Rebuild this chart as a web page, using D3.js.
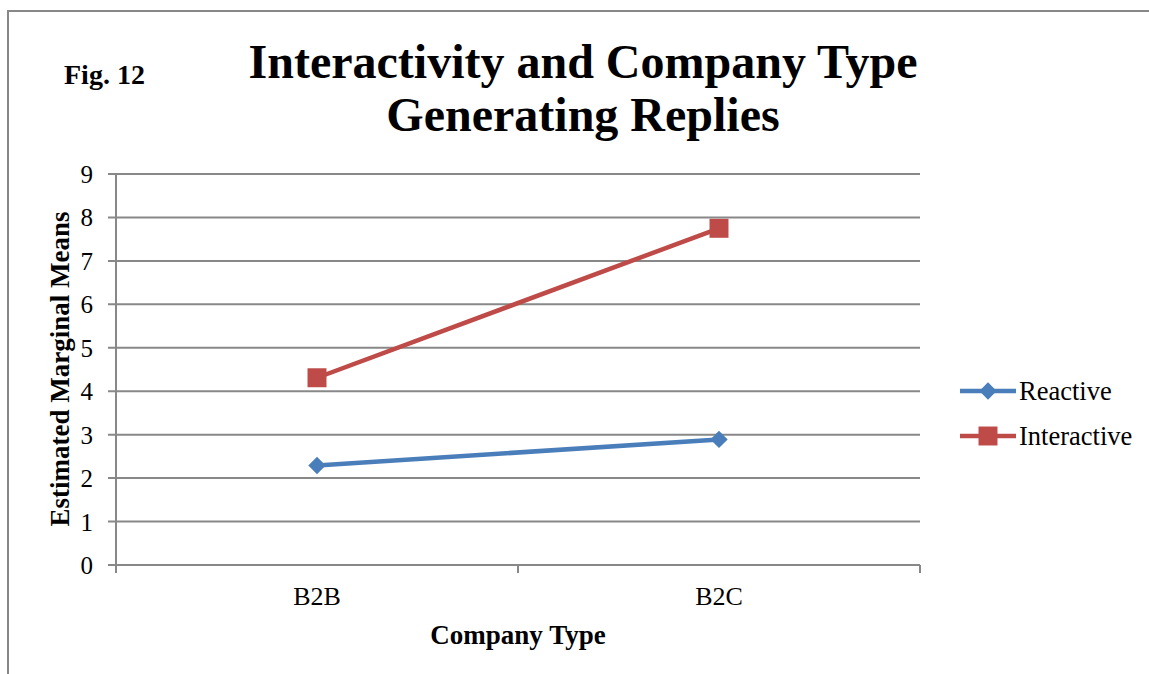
<!DOCTYPE html>
<html><head><meta charset="utf-8">
<script src="https://cdn.jsdelivr.net/npm/d3@7"></script>
<style>body{margin:0;background:#fff;} svg{display:block;}</style>
</head><body>
<svg id="c" width="1149" height="674"></svg>
<script>
const categories = ["B2B", "B2C"];
const reactive = [2.29, 2.89];
const interactive = [4.31, 7.75];
const yTicks = [0,1,2,3,4,5,6,7,8,9];
const seriesNames = ["Reactive", "Interactive"];
const seriesColors = ["#4A7EBB", "#BE4B48"];

const svg = d3.select("#c");
const font = "'Liberation Serif','Times New Roman',serif";
const W = 1149, H = 674;
const m = {left:116, right:920, top:174, bottom:565};

svg.append("rect").attr("x",8).attr("y",11).attr("width",W+20).attr("height",H+20)
  .attr("fill","#fff").attr("stroke","#888").attr("stroke-width",2);

const x = d3.scaleBand().domain(categories).range([m.left, m.right]);
const y = d3.scaleLinear().domain([0,9]).range([m.bottom, m.top]);

// gridlines
svg.append("g").selectAll("line").data(yTicks).join("line")
  .attr("x1", m.left-8).attr("x2", m.right)
  .attr("y1", d=>y(d)).attr("y2", d=>y(d))
  .attr("stroke","#888").attr("stroke-width",2);

// y axis line
svg.append("line").attr("x1",m.left).attr("x2",m.left).attr("y1",m.top).attr("y2",m.bottom+8)
  .attr("stroke","#888").attr("stroke-width",2);

// x category boundary ticks
const bounds = [m.left, ...categories.slice(1).map(c=>x(c)), m.right];
svg.append("g").selectAll("line").data(bounds).join("line")
  .attr("x1",d=>d).attr("x2",d=>d).attr("y1",m.bottom).attr("y2",m.bottom+8)
  .attr("stroke","#888").attr("stroke-width",2);

// y tick labels
svg.append("g").selectAll("text").data(yTicks).join("text")
  .attr("x", 93).attr("y", d=>y(d)+9)
  .attr("text-anchor","end").attr("font-family",font).attr("font-size",25)
  .attr("fill","#000").text(d=>d);

// x tick labels
svg.append("g").selectAll("text").data(categories).join("text")
  .attr("x", d=>x(d)+x.bandwidth()/2).attr("y", 605)
  .attr("text-anchor","middle").attr("font-family",font).attr("font-size",26)
  .attr("fill","#000").text(d=>d);

// titles
svg.append("text").attr("x",583).attr("y",78).attr("text-anchor","middle")
  .attr("font-family",font).attr("font-weight","bold").attr("font-size",48).text("Interactivity and Company Type");
svg.append("text").attr("x",583).attr("y",131).attr("text-anchor","middle")
  .attr("font-family",font).attr("font-weight","bold").attr("font-size",48).text("Generating Replies");
svg.append("text").attr("x",64).attr("y",84)
  .attr("font-family",font).attr("font-weight","bold").attr("font-size",28).text("Fig. 12");

svg.append("text").attr("x",518).attr("y",644).attr("text-anchor","middle")
  .attr("font-family",font).attr("font-weight","bold").attr("font-size",27).text("Company Type");
svg.append("text").attr("transform","translate(69,369) rotate(-90)").attr("text-anchor","middle")
  .attr("font-family",font).attr("font-weight","bold").attr("font-size",27).text("Estimated Marginal Means");

const series = [reactive, interactive];
const cx = c => x(c)+x.bandwidth()/2;
const line = d3.line().x((d,i)=>cx(categories[i])).y(d=>y(d));
const markerSize = [150, 360];

series.forEach((vals,si)=>{
  svg.append("path").attr("d", line(vals)).attr("fill","none")
    .attr("stroke", seriesColors[si]).attr("stroke-width",4.5);
  svg.append("g").selectAll("path").data(vals).join("path")
    .attr("d", d3.symbol().type(d3.symbolSquare).size(markerSize[si])())
    .attr("transform",(d,i)=>`translate(${cx(categories[i])},${y(d)})` + (si===0?" rotate(45)":""))
    .attr("fill", seriesColors[si]);
});

// legend
const ly = [391, 436];
seriesNames.forEach((n,i)=>{
  const g = svg.append("g");
  g.append("line").attr("x1",960).attr("x2",1016).attr("y1",ly[i]).attr("y2",ly[i])
    .attr("stroke",seriesColors[i]).attr("stroke-width",4.5);
  g.append("path").attr("d", d3.symbol().type(d3.symbolSquare).size(markerSize[i])())
    .attr("transform",`translate(988,${ly[i]})` + (i===0?" rotate(45)":""))
    .attr("fill",seriesColors[i]);
  g.append("text").attr("x",1019).attr("y",ly[i]+9).attr("font-family",font).attr("font-size",26.5)
    .text(n);
});
</script>
</body></html>
